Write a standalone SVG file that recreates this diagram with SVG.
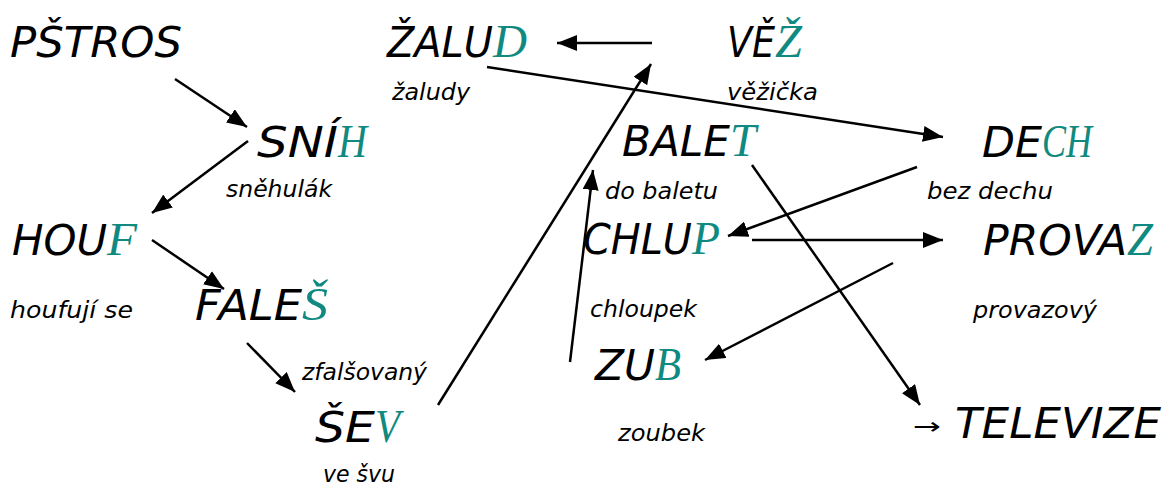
<svg xmlns="http://www.w3.org/2000/svg" width="1164" height="488" viewBox="0 0 1164 488">
<style>
.w{font-family:"DejaVu Sans","Liberation Sans",sans-serif;font-style:italic;font-size:42px;fill:#000}
.t{font-family:"Liberation Serif","DejaVu Serif",serif;font-style:italic;font-size:46px;fill:#108a80}
.s{font-family:"DejaVu Sans","Liberation Sans",sans-serif;font-style:italic;font-size:23px;fill:#000}
.c line{stroke:#000;stroke-width:2.5;marker-end:url(#ah)}
</style>
<defs>
<marker id="ah" markerUnits="userSpaceOnUse" markerWidth="20" markerHeight="16" refX="20" refY="8" orient="auto">
<path d="M0,0 L20,8 L0,16 z" fill="#000"/>
</marker>
</defs>
<rect width="1164" height="488" fill="#fff"/>
<g id="pstros"><text class="w" x="10" y="57" textLength="172" lengthAdjust="spacingAndGlyphs">PŠTROS</text></g>
<g id="zalud"><text class="w" y="57"><tspan x="387" textLength="106" lengthAdjust="spacingAndGlyphs">ŽALU</tspan><tspan class="t" x="493" textLength="34" lengthAdjust="spacingAndGlyphs">D</tspan></text><text class="s" x="392" y="100" textLength="78" lengthAdjust="spacingAndGlyphs">žaludy</text></g>
<g id="vez"><text class="w" y="57"><tspan x="727" textLength="48" lengthAdjust="spacingAndGlyphs">VĚ</tspan><tspan class="t" x="775" textLength="27" lengthAdjust="spacingAndGlyphs">Ž</tspan></text><text class="s" x="727" y="100" textLength="91" lengthAdjust="spacingAndGlyphs">věžička</text></g>
<g id="snih"><text class="w" y="157"><tspan x="257" textLength="81" lengthAdjust="spacingAndGlyphs">SNÍ</tspan><tspan class="t" x="338" textLength="29" lengthAdjust="spacingAndGlyphs">H</tspan></text><text class="s" x="226" y="197" textLength="106" lengthAdjust="spacingAndGlyphs">sněhulák</text></g>
<g id="balet"><text class="w" y="156"><tspan x="622" textLength="108" lengthAdjust="spacingAndGlyphs">BALE</tspan><tspan class="t" x="730" textLength="26" lengthAdjust="spacingAndGlyphs">T</tspan></text><text class="s" x="605" y="199" textLength="113" lengthAdjust="spacingAndGlyphs">do baletu</text></g>
<g id="dech"><text class="w" y="157"><tspan x="982" textLength="60" lengthAdjust="spacingAndGlyphs">DE</tspan><tspan class="t" x="1042" textLength="50" lengthAdjust="spacingAndGlyphs">CH</tspan></text><text class="s" x="927" y="199" textLength="126" lengthAdjust="spacingAndGlyphs">bez dechu</text></g>
<g id="houf"><text class="w" y="255"><tspan x="12" textLength="95" lengthAdjust="spacingAndGlyphs">HOU</tspan><tspan class="t" x="107" textLength="30" lengthAdjust="spacingAndGlyphs">F</tspan></text><text class="s" x="10" y="318" textLength="123" lengthAdjust="spacingAndGlyphs">houfují se</text></g>
<g id="chlup"><text class="w" y="254"><tspan x="583" textLength="109" lengthAdjust="spacingAndGlyphs">CHLU</tspan><tspan class="t" x="692" textLength="28" lengthAdjust="spacingAndGlyphs">P</tspan></text><text class="s" x="590" y="317" textLength="107" lengthAdjust="spacingAndGlyphs">chloupek</text></g>
<g id="provaz"><text class="w" y="255"><tspan x="983" textLength="144" lengthAdjust="spacingAndGlyphs">PROVA</tspan><tspan class="t" x="1127" textLength="26" lengthAdjust="spacingAndGlyphs">Z</tspan></text><text class="s" x="973" y="318" textLength="124" lengthAdjust="spacingAndGlyphs">provazový</text></g>
<g id="fales"><text class="w" y="320"><tspan x="195" textLength="107" lengthAdjust="spacingAndGlyphs">FALE</tspan><tspan class="t" x="302" textLength="26" lengthAdjust="spacingAndGlyphs">Š</tspan></text><text class="s" x="302" y="380" textLength="125" lengthAdjust="spacingAndGlyphs">zfalšovaný</text></g>
<g id="zub"><text class="w" y="380"><tspan x="595" textLength="60" lengthAdjust="spacingAndGlyphs">ZU</tspan><tspan class="t" x="655" textLength="26" lengthAdjust="spacingAndGlyphs">B</tspan></text><text class="s" x="618" y="441" textLength="87" lengthAdjust="spacingAndGlyphs">zoubek</text></g>
<g id="sev"><text class="w" y="442"><tspan x="315" textLength="60" lengthAdjust="spacingAndGlyphs">ŠE</tspan><tspan class="t" x="375" textLength="25" lengthAdjust="spacingAndGlyphs">V</tspan></text><text class="s" x="323" y="482" textLength="72" lengthAdjust="spacingAndGlyphs">ve švu</text></g>
<g id="televize"><text class="s" x="913" y="434" textLength="28" lengthAdjust="spacingAndGlyphs">→</text><text class="w" x="955" y="438" font-size="38" textLength="206" lengthAdjust="spacingAndGlyphs">TELEVIZE</text></g>
<g id="connectors" class="c">
<line x1="175" y1="79" x2="247" y2="127"/>
<line x1="248" y1="141" x2="152" y2="213"/>
<line x1="152" y1="240" x2="224" y2="289"/>
<line x1="247" y1="343" x2="295" y2="392"/>
<line x1="438" y1="405" x2="651" y2="64"/>
<line x1="652" y1="43" x2="557" y2="43"/>
<line x1="487" y1="67" x2="943" y2="137"/>
<line x1="917" y1="167" x2="728" y2="236"/>
<line x1="752" y1="240" x2="943" y2="240"/>
<line x1="893" y1="263" x2="705" y2="360"/>
<line x1="570" y1="362" x2="593" y2="170"/>
<line x1="752" y1="165" x2="920" y2="405"/>
</g>
</svg>
